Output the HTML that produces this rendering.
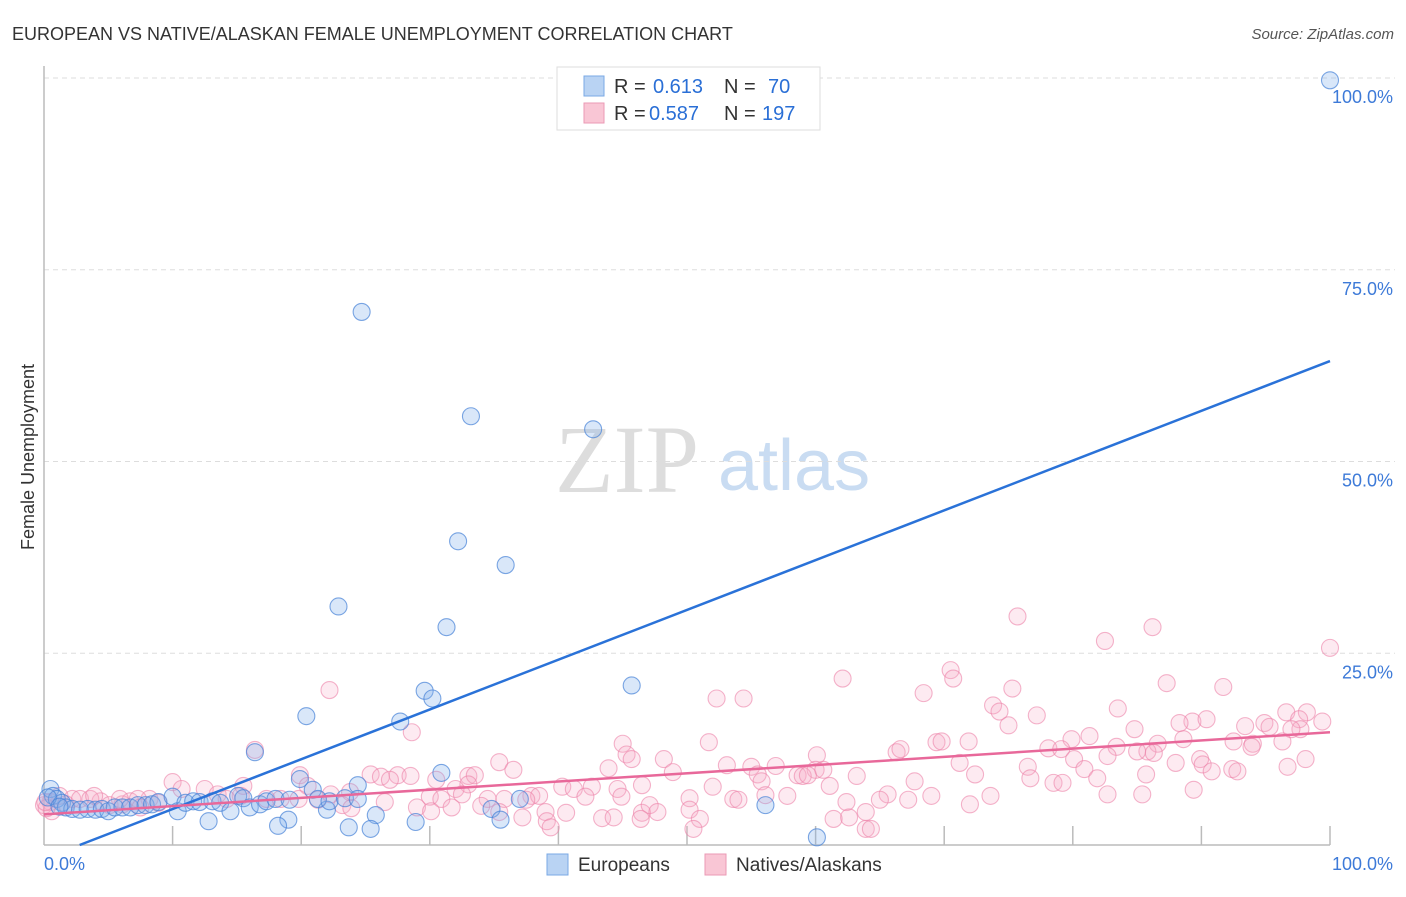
<!DOCTYPE html>
<html><head><meta charset="utf-8"><style>
body{margin:0;background:#fff;width:1406px;height:892px;overflow:hidden;font-family:"Liberation Sans",sans-serif}
</style></head><body>
<svg id="c" width="1406" height="892" xmlns="http://www.w3.org/2000/svg">
<text x="12" y="40" font-size="18" fill="#333">EUROPEAN VS NATIVE/ALASKAN FEMALE UNEMPLOYMENT CORRELATION CHART</text>
<text x="1394" y="39" font-size="15" fill="#555" font-style="italic" text-anchor="end">Source: ZipAtlas.com</text>
<text x="34" y="457" font-size="18" fill="#333" text-anchor="middle" transform="rotate(-90 34 457)">Female Unemployment</text>
<g><text x="555" y="492" font-size="96" font-family="Liberation Serif,serif" fill="#ddd">ZIP</text><text x="718" y="490" font-size="72" fill="#c9dcf2">atlas</text></g>
<g id="grid"></g><g id="pts"></g><g id="lines"></g>
<g>
<rect x="557" y="67" width="263" height="63" fill="#fff" stroke="#ddd"/>
<rect x="584" y="76" width="20" height="20" fill="#b9d3f3" stroke="#7aa8e4"/>
<rect x="584" y="103" width="20" height="20" fill="#f9c6d5" stroke="#eb9ab5"/>
<text x="614" y="93" font-size="20" fill="#333">R = </text><text x="653" y="93" font-size="20" fill="#2a6fd6">0.613</text>
<text x="724" y="93" font-size="20" fill="#333">N = </text><text x="768" y="93" font-size="20" fill="#2a6fd6">70</text>
<text x="614" y="120" font-size="20" fill="#333">R = </text><text x="649" y="120" font-size="20" fill="#2a6fd6">0.587</text>
<text x="724" y="120" font-size="20" fill="#333">N = </text><text x="762" y="120" font-size="20" fill="#2a6fd6">197</text>
</g>
<g>
<rect x="547" y="854" width="21" height="21" fill="#b9d3f3" stroke="#7aa8e4"/>
<text x="578" y="871" font-size="19" fill="#333">Europeans</text>
<rect x="705" y="854" width="21" height="21" fill="#f9c6d5" stroke="#eb9ab5"/>
<text x="736" y="871" font-size="19" fill="#333">Natives/Alaskans</text>
</g>
</svg>
<script>
const yTicks=[25,50,75,100];
const yTickLabels=["25.0%","50.0%","75.0%","100.0%"];
const xEndLabels=["0.0%","100.0%"];
const euroX=[100,24.7,33.2,42.7,32.2,35.9,22.9,31.3,45.7,29.6,30.2,20.4,27.7,16.4,30.9,19.9,24.4,20.9,37,56.1,34.8,22,25.8,35.5,12.8,19,28.9,18.2,23.7,25.4,60.1,0.5,0.7,1.0,1.4,1.7,2.2,2.8,3.4,4.0,4.5,5.0,5.5,6.1,6.7,7.3,7.9,8.4,8.9,10,10.4,11,11.6,12.1,13.1,13.7,14.5,15.1,15.5,16,16.8,17.3,18,19.1,21.3,22.2,23.4,24.4,0.3,1.2];
const euroY=[99.7,69.5,55.9,54.2,39.6,36.5,31.1,28.4,20.8,20.1,19.1,16.8,16.1,12.1,9.4,8.6,7.8,7.2,6,5.2,4.7,4.6,3.9,3.3,3.1,3.3,3,2.5,2.3,2.1,1,7.3,6.4,6.0,5.5,4.9,4.7,4.6,4.7,4.6,4.7,4.4,4.9,4.9,4.9,5.2,5.2,5.3,5.6,6.3,4.4,5.5,5.7,5.6,5.7,5.5,4.4,6.4,6.1,4.9,5.3,5.7,6,5.9,6,5.7,6.1,6.0,6.2,5.0];
const natX=[75.7,82.5,86.2,100,22.2,70.5,70.7,62.1,87.3,91.7,68.4,75.3,52.3,54.4,73.8,74.3,83.5,98.2,96.6,77.2,89.3,90.4,88.3,94.9,97.6,99.4,93.4,95.3,97.7,84.8,75.0,28.6,81.3,86.6,88.6,45.0,51.7,69.4,69.8,71.9,79.9,94.0,92.5,96.3,97.0,16.4,45.3,66.3,66.6,78.1,79.1,83.4,85.8,93.9,82.7,85.0,86.3,89.9,45.7,48.2,60.1,35.4,36.5,43.9,48.9,53.1,55.0,56.9,60.0,71.2,76.5,80.1,80.9,88.0,90.1,92.4,92.8,96.7,98.1,19.9,25.4,26.2,27.5,28.5,33.0,33.5,55.5,58.6,59.0,59.4,60.6,72.4,85.7,90.8,26.9,30.5,33.0,46.5,52.0,55.8,61.1,63.2,67.7,76.7,81.9,78.5,79.2,42.6,44.6,40.3,41.2,37.9,38.5,32.0,32.5,20.5,22.3,23.8,30.0,30.9,34.5,35.8,37.5,42.1,44.9,50.2,53.6,54.0,56.1,57.8,62.4,65.6,69.0,67.2,72.0,73.6,82.7,85.4,89.4,15.5,15.3,12.5,13.5,14.2,17.3,18.4,19.8,21.3,23.2,23.9,26.5,29.0,30.1,31.7,34.0,35.4,37.2,39.0,39.1,40.6,43.4,44.3,46.5,47.1,47.7,50.2,46.4,51.0,62.6,63.9,65.0,63.9,64.3,61.4,50.5,39.4,10.0,10.7,8.2,8.9,4.4,5.1,6.1,6.7,7.3,1.2,2.2,1.7,2.8,3.6,0.5,0,0.6,3.9,5.9,7.5,0.2,0.1];
const natY=[29.8,26.6,28.4,25.7,20.2,22.8,21.7,21.7,21.1,20.6,19.8,20.4,19.1,19.1,18.2,17.4,17.8,17.3,17.3,16.9,16.1,16.4,15.9,15.9,16.4,16.1,15.5,15.4,15.1,15.1,15.6,14.7,14.2,13.2,13.8,13.2,13.4,13.4,13.5,13.5,13.8,13.2,13.5,13.5,15.1,12.4,11.8,12.1,12.5,12.6,12.5,12.8,12.2,12.8,11.6,12.2,12.0,11.2,11.2,11.2,11.7,10.8,9.8,10.0,9.5,10.4,10.2,10.3,9.8,10.7,10.2,11.2,9.9,10.7,10.5,9.9,9.6,10.2,11.2,9.1,9.2,8.9,9.1,9.0,9.0,9.1,9.2,9.1,9.0,9.1,9.8,9.2,9.2,9.6,8.5,8.5,7.9,7.8,7.6,8.3,7.7,9.0,8.3,8.7,8.7,8.1,8.1,7.6,7.3,7.6,7.3,6.4,6.4,7.3,6.6,7.7,6.6,6.9,6.3,6.0,6.0,6.0,5.9,6.3,6.3,6.1,6.0,5.9,6.5,6.4,5.6,6.6,6.4,5.9,5.3,6.4,6.6,6.6,7.2,7.7,6.4,7.3,6.6,6.0,6.0,6.0,6.0,5.9,5.2,4.8,5.6,4.9,4.4,4.9,5.1,4.3,3.6,4.3,3.1,4.2,3.5,3.6,4.2,5.2,4.3,4.6,3.4,3.4,3.6,4.3,5.9,2.1,2.1,3.4,2.1,2.3,8.2,7.3,6.0,5.5,5.7,5.2,5.3,5.7,6.0,6.4,6.0,5.3,6.0,6.0,5.6,5.2,4.4,6.4,6.0,4.9,4.8,5.6];
const euroFit=[-1.8,63.1];
const natFit=[4.0,14.7];
const X0=44,X1=1330,Y0=845,Y1=78;
const sx=v=>X0+(X1-X0)*v/100, sy=v=>Y0-(Y0-Y1)*v/100;
const NS="http://www.w3.org/2000/svg";
function mk(t,a,p){const e=document.createElementNS(NS,t);for(const k in a)e.setAttribute(k,a[k]);p.appendChild(e);return e;}
const g=document.getElementById('grid');
yTicks.forEach((t,i)=>{
 const l=mk('line',{x1:X0,x2:1395,y1:sy(t),y2:sy(t),stroke:'#ddd','stroke-dasharray':'5,4'},g);
 
 
 const tx=mk('text',{x:1393,y:sy(t)+25,'font-size':18,fill:'#3d7ad8','text-anchor':'end'},g);
 tx.textContent=yTickLabels[i];
 
 
});
const ax=mk('line',{x1:X0,x2:X0,y1:66,y2:Y0,stroke:'#bbb','stroke-width':1.5},g);


const bx=mk('line',{x1:X0,x2:X1,y1:Y0,y2:Y0,stroke:'#bbb','stroke-width':1.5},g);


for(let i=1;i<=10;i++){const t=mk('line',{x1:sx(i*10),x2:sx(i*10),y1:Y0-19,y2:Y0,stroke:'#bbb','stroke-width':1.5},g);
 
 }
[[0,'start',44],[100,'end',1393]].forEach((d,i)=>{const t=mk('text',{x:d[2],y:870,'font-size':18,fill:'#3d7ad8','text-anchor':d[1]},g);t.textContent=xEndLabels[i];
 
 });
const p=document.getElementById('pts');
natX.forEach((x,i)=>{const c=mk('circle',{cx:sx(x),cy:sy(natY[i]),r:8.5,fill:'rgba(246,170,198,0.25)',stroke:'rgba(236,130,168,0.6)','stroke-width':1.1},p);
 
 });
euroX.forEach((x,i)=>{const c=mk('circle',{cx:sx(x),cy:sy(euroY[i]),r:8.5,fill:'rgba(130,175,235,0.3)',stroke:'rgba(70,130,215,0.7)','stroke-width':1.1},p);
 
 });
const L=document.getElementById('lines');
const x0=(0-euroFit[0])/(euroFit[1]-euroFit[0])*100;
const bl=mk('line',{x1:sx(x0),y1:sy(0),x2:sx(100),y2:sy(euroFit[1]),stroke:'#2a72d8','stroke-width':2.5},L);


const pl=mk('line',{x1:sx(0),y1:sy(natFit[0]),x2:sx(100),y2:sy(natFit[1]),stroke:'#e8689a','stroke-width':2.5},L);


</script>
</body></html>
